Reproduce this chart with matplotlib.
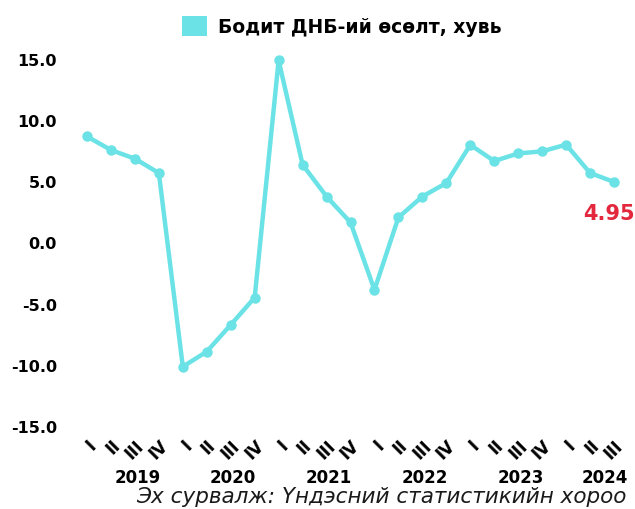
import matplotlib
matplotlib.use("Agg")
import matplotlib.pyplot as plt
from matplotlib.patches import Patch

plt.rcParams['font.family'] = ['DejaVu Sans']

years = ["2019", "2020", "2021", "2022", "2023", "2024"]
quarters_per_year = [4, 4, 4, 4, 4, 3]
quarter_names = ["I", "II", "III", "IV"]
growth = [8.67, 7.56, 6.85, 5.68,
          -10.15, -8.92, -6.73, -4.50,
          14.89, 6.36, 3.76, 1.64,
          -3.87, 2.05, 3.76, 4.86,
          7.98, 6.66, 7.28, 7.45,
          8.00, 5.68, 4.95]
series_label = "Бодит ДНБ-ий өсөлт, хувь"
source_text = "Эх сурвалж: Үндэсний статистикийн хороо"
last_label = "4.95"

line_color = "#6BE3E6"
red = "#E3273D"

tick_labels = []
for n in quarters_per_year:
    tick_labels += quarter_names[:n]
x = list(range(len(growth)))

fig = plt.figure(figsize=(6.35, 5.10), dpi=100)
ax = fig.add_axes([75/635, 83/510, 551/635, 367/510])
ax.plot(x, growth, color=line_color, lw=3.2, marker='o', ms=6.5, clip_on=False, zorder=3)
ax.set_xlim(-0.5, len(growth) - 0.5)
ax.set_ylim(-15, 15)
ax.set_yticks([-15, -10, -5, 0, 5, 10, 15])
ax.set_yticklabels([f"{v:.1f}" for v in [-15, -10, -5, 0, 5, 10, 15]],
                   fontsize=11.5, fontweight='bold')
ax.set_xticks(x)
ax.set_xticklabels(tick_labels, rotation=45, ha='right', rotation_mode='anchor',
                   fontsize=12, fontweight='bold')
ax.tick_params(axis='y', length=0, pad=13)
ax.tick_params(axis='x', length=0, pad=7)
for s in ax.spines.values():
    s.set_visible(False)

# year labels
start = 0
for yr, n in zip(years, quarters_per_year):
    ax.annotate(yr, xy=(start + (n - 1) / 2 + 0.6, 0), xycoords=('data', 'axes fraction'),
                xytext=(0, -37), textcoords='offset points',
                ha='center', va='center', fontsize=12, fontweight='bold')
    start += n

ax.annotate(last_label, xy=(x[-1], growth[-1]), xytext=(-4, -22),
            textcoords='offset points', ha='center', va='center',
            color=red, fontsize=15, fontweight='bold')

fig.text(627/635, 1 - 497/510, source_text, ha='right', va='center',
         fontsize=15.5, style='italic', color='#1a1a1a')

leg = fig.legend(handles=[Patch(facecolor=line_color, edgecolor='none', label=series_label)],
                 loc='center', bbox_to_anchor=(342/635, 1 - 27/510), frameon=False,
                 prop={'weight': 'bold', 'size': 13.5}, handlelength=1.3, handleheight=1.3,
                 handletextpad=0.6)

fig.savefig("out.png", dpi=100)
